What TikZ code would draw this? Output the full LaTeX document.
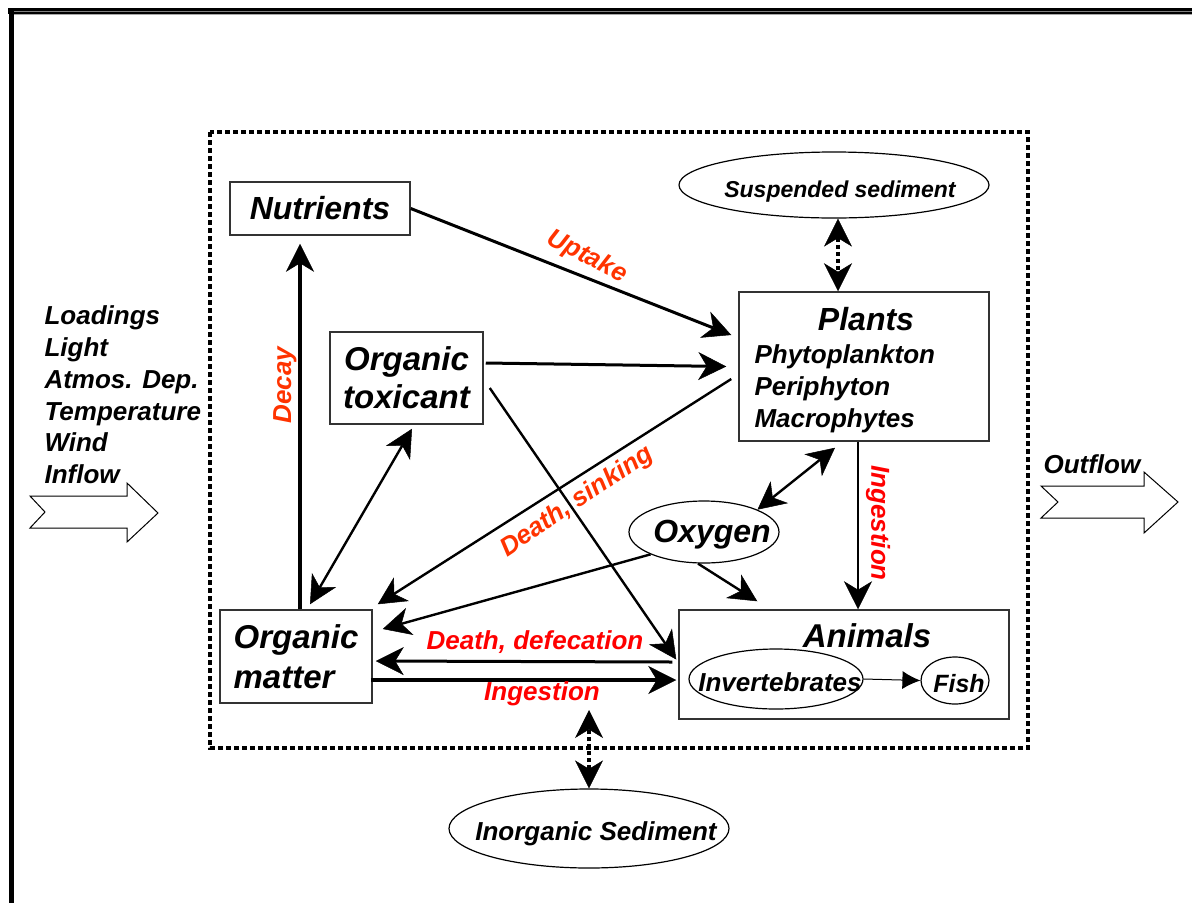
\documentclass[tikz,border=0pt]{standalone}
\usepackage{fontspec}
\setmainfont{Liberation Sans}
\usetikzlibrary{arrows.meta,shapes.geometric,calc}
\definecolor{lblorange}{HTML}{FF3300}
\definecolor{lblred}{HTML}{FF0000}
\definecolor{boxline}{HTML}{333333}
\newcommand{\bisz}[2]{\bfseries\itshape\fontsize{#1}{#2}\selectfont}
\begin{document}
\begin{tikzpicture}[x=1pt,y=-1pt,
  >={Stealth[length=28pt,width=28pt,inset=8.5pt,line width=0.5pt]},
  box/.style={draw=boxline,line width=1.5pt,inner sep=0pt},
  oval/.style={draw=black,line width=1.2pt,ellipse,inner sep=0pt},
  flow/.style={draw=black,line width=1pt,fill=white,line join=miter},
  conn/.style={->,line width=3pt},
  thinconn/.style={->,line width=2.4pt},
  dotconn/.style={<->,line width=4pt,dash pattern=on 4pt off 3pt},
  lbl/.style={font=\bisz{26}{30}},
  side/.style={font=\bisz{26}{32},anchor=base west},
  plantsub/.style={font=\bisz{26}{32},anchor=base west}]
\useasboundingbox (0,0) rectangle (1192,903);
% outer frame
\fill[black] (8,8) rectangle (1192,14);
\draw[gray,line width=1.2pt] (14,11.6) -- (1192,11.6);
\draw[gray!70,line width=1pt] (14,14.6) -- (1192,14.6);
\fill[black] (9,8) rectangle (14,903);
% dotted system boundary
\draw[line width=4pt,dash pattern=on 5pt off 3pt] (210,132) rectangle (1028,748);
% nodes
\node[box,minimum width=180pt,minimum height=53pt,font=\bisz{32}{38}] (nut) at (320,208.5) {Nutrients};
\node[box,minimum width=250pt,minimum height=149pt] (plants) at (864,366.5) {};
\node[font=\bisz{32}{38},anchor=base] (plantst) at (866,330) {Plants};
\node[plantsub] (phyto) at (751,363) {Phytoplankton};
\node[plantsub] (peri) at (751,395) {Periphyton};
\node[plantsub] (macro) at (751,427) {Macrophytes};
\node[box,minimum width=153pt,minimum height=92pt,align=center,font=\bisz{33}{38}] (tox) at (406.5,378) {Organic\\toxicant};
\node[box,minimum width=152pt,minimum height=93pt,align=left,font=\bisz{33}{40}] (om) at (296,656.5) {Organic\\matter};
\node[box,minimum width=330pt,minimum height=109pt] (anim) at (844,664.5) {};
\node[font=\bisz{33}{38},anchor=base] (animt) at (867,647) {Animals};
\node[oval,minimum width=174pt,minimum height=60pt] (inv) at (776,679) {};
\node[font=\bisz{26}{30},anchor=base] (invt) at (780,691) {Invertebrates};
\node[oval,minimum width=68pt,minimum height=47pt] (fish) at (955,680.5) {};
\node[font=\bisz{25}{30},anchor=base] (fisht) at (959,692) {Fish};
\node[oval,minimum width=150pt,minimum height=62pt] (oxy) at (704,532) {};
\node[font=\bisz{32}{38},anchor=base] (oxyt) at (712,542) {Oxygen};
\node[oval,minimum width=310pt,minimum height=66pt] (susp) at (834,185) {};
\node[font=\bisz{23}{28},anchor=base] (suspt) at (840,197) {Suspended sediment};
\node[oval,minimum width=280pt,minimum height=79pt] (inorg) at (589,828.5) {};
\node[font=\bisz{26}{30},anchor=base] (inorgt) at (596,840) {Inorganic Sediment};
% forcing list
\node[side] (load) at (41,324) {Loadings};
\node[side] (light) at (41,356) {Light};
\node[side] (atmos) at (41,388) {Atmos. Dep.};
\node[side] (temp) at (41,420) {Temperature};
\node[side] (wind) at (41,451) {Wind};
\node[side] (inflow) at (41,483) {Inflow};
\node[side] (outflow) at (1040,473) {Outflow};
% block arrows
\draw[flow] (30,496) -- (127,496) -- (127,483) -- (158,513) -- (127,542) -- (127,528) -- (30,528) -- (45,512) -- cycle;
\draw[flow] (1041,486) -- (1144,486) -- (1144,472) -- (1178,502) -- (1144,533) -- (1144,518) -- (1041,518) -- (1058,502) -- cycle;
% connectors
\draw[conn] (nut.east) -- ($(plants.west)+(-7,-31.5)$);
\draw[conn] ($(tox.east)+(2,-15)$) -- ($(plants.west)+(-12,0)$);
\draw[thinconn] ($(tox.east)+(6,10)$) -- ($(anim.west)+(-2,-5)$);
\draw[thinconn] ($(plants.west)+(-7,12.5)$) -- ($(om.north east)+(5,-5)$);
\draw[thinconn,<->] ($(tox.south)+(5.5,4)$) -- ($(om.north)+(14,-5)$);
\draw[conn,line width=3.5pt] ($(om.north)+(4,0)$) -- ($(nut.south)+(-20,8)$);
\draw[thinconn] (oxy.south west) -- ($(om.east)+(10,-27.5)$);
\draw[thinconn] ($(oxy.south)+(-6,0)$) -- ($(anim.north west)+(79,-8)$);
\draw[thinconn,<->] (oxy.north east) -- ($(plants.south)+(-29,6)$);
\draw[conn,line width=2pt] ($(plants.south)+(-6,0)$) -- ($(anim.north)+(14,0)$);
\draw[conn] ($(anim.west)+(-6,-2.5)$) -- ($(om.east)+(3,4.5)$);
\draw[conn,line width=3.5pt] ($(om.east)+(-2,23.5)$) -- ($(anim.west)+(-2,15.5)$);
\draw[dotconn] ($(susp.south)+(4,0)$) -- ($(plants.north)+(-26,0)$);
\coordinate (sedtop) at (589,710);
\draw[dotconn] (inorg.north) -- (sedtop);
\draw[line width=1pt,-{Latex[length=18pt,width=18pt]}] (inv.east) -- (fish.west);
% labels
\node[lbl,text=lblorange,rotate=-27] (uptake) at (587,257) {Uptake};
\node[lbl,text=lblorange,rotate=90] (decay) at (285,385) {Decay};
\node[lbl,text=lblorange,rotate=34] (sink) at (577,502) {Death, sinking};
\node[lbl,text=lblred,rotate=-90] (ingv) at (878,523) {Ingestion};
\node[lbl,text=lblred] (defec) at (535,642) {Death, defecation};
\node[lbl,text=lblred] (ingh) at (542,694) {Ingestion};
\end{tikzpicture}
\end{document}
